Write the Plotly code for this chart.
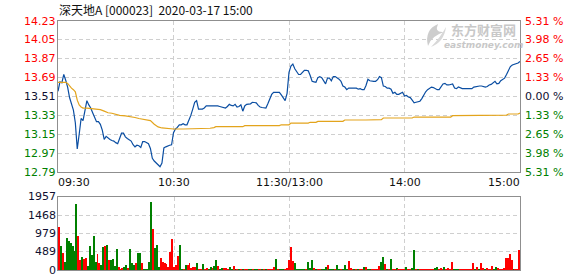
import plotly.graph_objects as go

# ---------------- data ----------------
title_text = "深天地A [000023]  2020-03-17 15:00"
prev_close = 13.51
price_ticks = [14.23, 14.05, 13.87, 13.69, 13.51, 13.33, 13.15, 12.97, 12.79]
pct_labels = ["5.31 %", "3.98 %", "2.65 %", "1.33 %", "0.00 %", "1.33 %", "2.65 %", "3.98 %", "5.31 %"]
vol_ticks = [1957, 1468, 979, 489, 0]
time_labels = ["09:30", "10:30", "11:30/13:00", "14:00", "15:00"]
time_minutes = [0, 60, 120, 180, 240]

# one price per trading minute (0 = 09:30, 120 = 11:30/13:00, 240 = 15:00)
price = [
    13.56, 13.65, 13.64, 13.72, 13.665, 13.60, 13.50, 13.425, 13.38, 13.26,
    13.01, 13.15, 13.30, 13.28, 13.37, 13.47, 13.43, 13.40, 13.355, 13.32,
    13.27, 13.27, 13.245, 13.19, 13.10, 13.13, 13.11, 13.10, 13.09, 13.085,
    13.07, 13.06, 13.11, 13.16, 13.16, 13.125, 13.11, 13.10, 13.085, 13.05,
    13.03, 13.045, 13.04, 13.025, 13.08, 13.08, 13.07, 13.06, 13.015, 12.92,
    12.895, 12.875, 12.855, 12.84, 12.875, 13.02, 13.03, 13.04, 13.045, 13.05,
    13.165, 13.20, 13.215, 13.24, 13.24, 13.25, 13.24, 13.24, 13.28, 13.33,
    13.39, 13.455, 13.47, 13.39, 13.39, 13.39, 13.40, 13.42, 13.42, 13.42,
    13.425, 13.42, 13.42, 13.42, 13.415, 13.41, 13.405, 13.40, 13.415, 13.435,
    13.425, 13.42, 13.435, 13.41, 13.415, 13.43, 13.37, 13.42, 13.435, 13.435,
    13.44, 13.455, 13.455, 13.45, 13.425, 13.41, 13.405, 13.40, 13.40, 13.44,
    13.48, 13.53, 13.55, 13.55, 13.55, 13.55, 13.525, 13.49, 13.47, 13.54,
    13.74, 13.80, 13.82, 13.775, 13.745, 13.72, 13.72, 13.74, 13.76, 13.76,
    13.755, 13.71, 13.655, 13.65, 13.645, 13.69, 13.70, 13.69, 13.66, 13.63,
    13.685, 13.685, 13.66, 13.70, 13.70, 13.69, 13.675, 13.655, 13.61, 13.60,
    13.575, 13.59, 13.59, 13.585, 13.59, 13.59, 13.58, 13.585, 13.575, 13.575,
    13.615, 13.675, 13.66, 13.655, 13.655, 13.655, 13.67, 13.70, 13.69, 13.61,
    13.605, 13.59, 13.59, 13.58, 13.54, 13.55, 13.53, 13.53, 13.54, 13.55,
    13.515, 13.52, 13.505, 13.50, 13.475, 13.45, 13.455, 13.46, 13.465, 13.49,
    13.53, 13.555, 13.575, 13.59, 13.60, 13.595, 13.585, 13.575, 13.575, 13.60,
    13.63, 13.635, 13.62, 13.62, 13.625, 13.63, 13.59, 13.585, 13.60, 13.59,
    13.585, 13.585, 13.585, 13.585, 13.585, 13.585, 13.60, 13.605, 13.61, 13.61,
    13.61, 13.605, 13.60, 13.605, 13.62, 13.625, 13.64, 13.655, 13.63, 13.635,
    13.66, 13.67, 13.685, 13.72, 13.755, 13.795, 13.81, 13.815, 13.82, 13.83,
    13.845,
]

avg_minutes = [0, 3, 4, 5, 6, 7, 8, 9, 10, 11, 12, 13, 15, 18, 20, 22, 24, 26, 28, 30,
               32, 35, 38, 40, 42, 46, 48, 50, 52, 54, 56, 60, 65, 70, 72, 79, 81, 82, 96, 97,
               115, 116, 120, 121, 130, 131, 134, 135, 148, 149, 160, 168, 169, 184, 185, 204,
               205, 225, 226, 233, 234, 239, 240]
avg_price = [13.645, 13.65, 13.645, 13.635, 13.61, 13.59, 13.575, 13.555, 13.475, 13.43,
             13.41, 13.40, 13.40, 13.395, 13.39, 13.385, 13.37, 13.355, 13.35, 13.34,
             13.33, 13.325, 13.32, 13.31, 13.30, 13.29, 13.28, 13.245, 13.22, 13.21,
             13.207, 13.20, 13.20, 13.20, 13.207, 13.207, 13.213, 13.222, 13.222, 13.232,
             13.232, 13.24, 13.24, 13.257, 13.257, 13.264, 13.264, 13.273, 13.273, 13.286,
             13.286, 13.289, 13.305, 13.305, 13.314, 13.314, 13.327, 13.327, 13.333, 13.333,
             13.343, 13.343, 13.352]

volume = [
    1148, 641, 454, 214, 854, 774, 721, 641, 507, 1762,
    908, 267, 347, 294, 320, 107, 641, 400, 908, 214,
    427, 187, 134, 614, 641, 667, 267, 267, 294, 107,
    561, 80, 45, 53, 80, 134, 53, 561, 187, 134,
    187, 454, 454, 187, 27, 27, 27, 214, 1815, 1094,
    587, 667, 80, 320, 214, 187, 160, 80, 480, 827,
    80, 134, 374, 667, 45, 45, 134, 134, 187, 53,
    80, 80, 187, 27, 27, 160, 27, 53, 27, 80,
    53, 107, 267, 107, 27, 53, 53, 53, 27, 80,
    27, 107, 27, 27, 27, 27, 27, 27, 27, 27,
    27, 27, 27, 27, 27, 27, 27, 27, 27, 27,
    27, 27, 80, 294, 27, 27, 27, 27, 27, 53,
    267, 614, 240, 187, 27, 27, 27, 27, 27, 27,
    214, 53, 267, 53, 27, 27, 27, 27, 27, 80,
    134, 27, 27, 27, 27, 134, 27, 27, 27, 134,
    27, 240, 53, 27, 27, 27, 27, 27, 27, 80,
    80, 27, 27, 27, 27, 27, 27, 107, 214, 347,
    160, 27, 27, 294, 27, 27, 53, 27, 27, 27,
    27, 80, 27, 27, 53, 534, 27, 27, 27, 27,
    27, 27, 27, 27, 27, 27, 53, 80, 27, 53,
    27, 80, 27, 53, 27, 214, 27, 27, 27, 27,
    27, 27, 27, 27, 27, 27, 187, 27, 80, 27,
    187, 53, 27, 53, 27, 27, 107, 27, 80, 53,
    27, 27, 53, 320, 320, 427, 267, 27, 27, 27,
    534,
]
# r = up minute (red), g = down minute (green)
direction = ("rgrggggggg" "rrgrrggggg" "rrggrgrggg" "grrrggrggg" "rggrgggggr"
             "gggrrrrrrr" "rrrggrgrrr" "rrgrrgrrgg" "rggrggrrrg" "grgrgrgrrg"
             "grggrrgrgr" "rrrgrgggrr" "rrrggggggr" "gggrgrrggg" "rgggrggrgg"
             "grrrgrgrrg" "rggrrrrrgg" "rgrgrrgrrr" "rgrrggrgrr" "rrrrrrggrr"
             "rgrrrrgggr" "rrrrrrrgrg" "rrgrrrrggr" "rrrrrrrgrr" "r")

# ---------------- styling ----------------
W, H = 578, 276
ML, MR, MT, MB = 58, 58, 21, 6
PLOT_W = W - ML - MR
PLOT_H = H - MT - MB
RED = "#ff0000"
GREEN = "#008000"
DARK = "#101030"
GRID = "#cfcfcf"
BORDER = "#8f8f8f"
NUMFONT = "DejaVu Sans"


def px(x):
    return (x - ML) / PLOT_W


def py(y):
    return (H - MB - y) / PLOT_H


price_dom = [py(172), 1.0]
vol_dom = [0.0, py(196.7)]

minutes = list(range(len(price)))
bar_colors = [RED if d == "r" else GREEN for d in direction]

fig = go.Figure()
fig.add_trace(go.Scatter(x=minutes, y=price, mode="lines",
                         line=dict(color="#0b4ea2", width=1.2),
                         xaxis="x", yaxis="y", hoverinfo="skip"))
fig.add_trace(go.Scatter(x=avg_minutes, y=avg_price, mode="lines",
                         line=dict(color="#e3a41c", width=1.2),
                         xaxis="x", yaxis="y", hoverinfo="skip"))
fig.add_trace(go.Bar(x=list(range(len(volume))), y=volume,
                     marker=dict(color=bar_colors, line=dict(width=0)),
                     width=0.5, xaxis="x2", yaxis="y2", hoverinfo="skip"))

axis_common = dict(showline=True, mirror=True, linecolor=BORDER, linewidth=1,
                   zeroline=False, ticks="", showticklabels=False,
                   showgrid=True, gridcolor=GRID, griddash="4px,3px", gridwidth=1)

fig.update_layout(
    width=W, height=H,
    margin=dict(l=ML, r=MR, t=MT, b=MB),
    paper_bgcolor="white", plot_bgcolor="white",
    showlegend=False, bargap=0,
    xaxis=dict(domain=[0, 1], range=[0, 240], tickvals=[60, 120, 180],
               anchor="y", **axis_common),
    yaxis=dict(domain=price_dom, range=[price_ticks[-1], price_ticks[0]],
               tickvals=price_ticks[1:-1], anchor="x", **axis_common),
    xaxis2=dict(domain=[0, 1], range=[-0.6, 240.4], tickvals=[60, 120, 180],
                anchor="y2", **axis_common),
    yaxis2=dict(domain=vol_dom, range=[0, vol_ticks[0]],
                tickvals=vol_ticks[1:-1], anchor="x2", **axis_common),
)

ann = []
# title
ann.append(dict(xref="paper", yref="paper", x=px(57), y=py(9), xanchor="left",
                yanchor="middle", text=title_text, showarrow=False,
                font=dict(family="Noto Sans CJK SC", size=12, color="#111111")))

# price and percent labels
for v, pct in zip(price_ticks, pct_labels):
    if v > prev_close + 1e-9:
        col = RED
    elif v < prev_close - 1e-9:
        col = GREEN
    else:
        col = DARK
    ann.append(dict(xref="paper", yref="y", x=px(57.5), y=v, xanchor="right",
                    yanchor="middle", text=f"{v:.2f}", showarrow=False,
                    font=dict(family=NUMFONT, size=11, color=col)))
    ann.append(dict(xref="paper", yref="y", x=px(522.5), y=v, xanchor="left",
                    yanchor="middle", text=pct, showarrow=False,
                    font=dict(family=NUMFONT, size=11, color=col)))

# volume labels
for v in vol_ticks:
    ann.append(dict(xref="paper", yref="y2", x=px(57.5), y=v, xanchor="right",
                    yanchor="middle", text=str(v), showarrow=False,
                    font=dict(family=NUMFONT, size=11, color=DARK)))

# time labels
anchors = ["left", "center", "center", "center", "right"]
shifts = [-2, 0, 0, 0, 2]
for t, m, a, s in zip(time_labels, time_minutes, anchors, shifts):
    ann.append(dict(xref="x", yref="paper", x=m, y=py(182.5), xanchor=a,
                    yanchor="middle", text=t, showarrow=False, xshift=s,
                    font=dict(family=NUMFONT, size=11, color="#111111")))

# watermark
ann.append(dict(xref="paper", yref="paper", x=px(483), y=py(29.5), xanchor="center",
                yanchor="middle", text="<b>东方财富网</b>", showarrow=False, borderpad=0,
                font=dict(family="Noto Sans CJK SC", size=13, color="#c8c8c8")))
ann.append(dict(xref="paper", yref="paper", x=px(483), y=py(45), xanchor="center",
                yanchor="middle", text="<b><i>eastmoney.com</i></b>", showarrow=False,
                borderpad=0,
                font=dict(family="DejaVu Sans", size=9, color="#c8c8c8")))

fig.update_layout(annotations=ann)

# watermark logo (decorative swoosh)
def pt(x, y):
    return f"{px(x):.5f},{py(y):.5f}"

logo_path = ("M " + pt(438, 24) + " Q " + pt(424, 30) + " " + pt(428, 46) +
             " Q " + pt(431, 36) + " " + pt(444, 32) + " Q " + pt(434, 33) + " " + pt(438, 24) + " Z")
logo_path2 = ("M " + pt(446, 27) + " Q " + pt(440, 38) + " " + pt(431, 47) +
              " Q " + pt(444, 42) + " " + pt(446, 27) + " Z")
fig.update_layout(shapes=[
    dict(type="path", xref="paper", yref="paper", path=logo_path,
         fillcolor="#cdcdcd", line=dict(width=0)),
    dict(type="path", xref="paper", yref="paper", path=logo_path2,
         fillcolor="#d8d8d8", line=dict(width=0)),
])

fig.write_html("out.html")
